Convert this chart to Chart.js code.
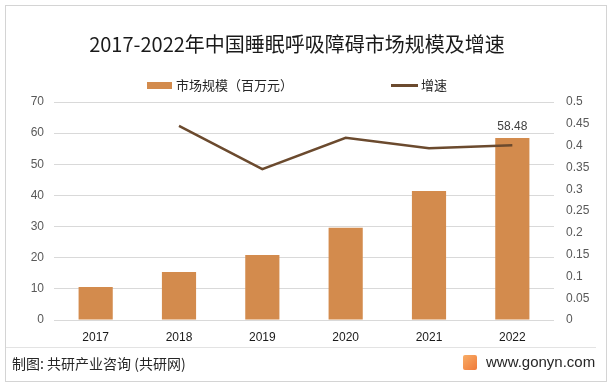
<!DOCTYPE html>
<html lang="zh">
<head>
    <meta charset="UTF-8">
    <title>2017-2022年中国睡眠呼吸障碍市场规模及增速</title>
    <script src="https://cdn.jsdelivr.net/npm/chart.js"></script>
    <style>
        body {
            margin: 0;
            background: #fff;
            font-family: "Noto Sans CJK SC", "Liberation Sans", sans-serif;
        }

        .frame {
            position: relative;
            width: 612px;
            height: 386px;
            overflow: hidden;
        }

        .border {
            position: absolute;
            left: 5px;
            top: 5px;
            width: 600px;
            height: 375px;
            border: 1px solid #d4d4d4;
        }

        canvas {
            position: absolute;
            left: 0;
            top: 0;
        }

        .title {
            position: absolute;
            left: 0;
            width: 594px;
            top: 31px;
            text-align: center;
            font-size: 20px;
            color: #1a1a1a;
            line-height: 26px;
        }

        .legend {
            position: absolute;
            top: 76px;
            font-size: 13px;
            color: #262626;
            line-height: 18px;
            display: flex;
            align-items: center;
        }

        .swatch-bar {
            width: 25px;
            height: 7px;
            background: #d38b4d;
            margin-right: 4px;
        }

        .swatch-line {
            width: 27px;
            height: 3px;
            background: #6b4a2e;
            margin-right: 3px;
        }

        .sep {
            position: absolute;
            left: 6px;
            width: 590px;
            top: 347px;
            border-top: 1px solid #e3e3e3;
        }

        .source {
            position: absolute;
            left: 12px;
            top: 353px;
            font-size: 14px;
            color: #262626;
            line-height: 20px;
        }

        .site {
            position: absolute;
            left: 463px;
            top: 353px;
            font-size: 15px;
            color: #262626;
            font-family: "Liberation Sans", sans-serif;
            line-height: 18px;
            display: flex;
            align-items: center;
        }

        .logo {
            width: 14px;
            height: 15px;
            background: linear-gradient(135deg, #f8ad66, #f07a3a);
            border-radius: 2px;
            margin-right: 9px;
        }
    </style>
</head>
<body>
<div class="frame">
    <div class="border"></div>
    <canvas id="chart" width="612" height="386"></canvas>
    <div class="title">2017-2022年中国睡眠呼吸障碍市场规模及增速</div>
    <div class="legend" style="left:147px"><span class="swatch-bar"></span>市场规模（百万元）</div>
    <div class="legend" style="left:391px"><span class="swatch-line"></span>增速</div>
    <div class="sep"></div>
    <div class="source">制图: 共研产业咨询 (共研网)</div>
    <div class="site"><span class="logo"></span>www.gonyn.com</div>
</div>

<script>
    // Data
    const years = ['2017', '2018', '2019', '2020', '2021', '2022'];
    const marketSize = [10.6, 15.4, 20.9, 29.6, 41.4, 58.48];
    const growthRate = [null, 0.445, 0.346, 0.418, 0.394, 0.401];
    const labelShown = [null, null, null, null, null, '58.48'];

    // Only the last bar carries a value label
    const barLabels = {
        id: 'barLabels',
        afterDatasetsDraw(chart) {
            const ctx = chart.ctx;
            const meta = chart.getDatasetMeta(1);
            ctx.save();
            ctx.font = '12px "Liberation Sans", sans-serif';
            ctx.fillStyle = '#404040';
            ctx.textAlign = 'center';
            ctx.textBaseline = 'bottom';
            meta.data.forEach((bar, i) => {
                if (labelShown[i]) ctx.fillText(labelShown[i], bar.x, bar.y - 5);
            });
            ctx.restore();
        }
    };

    new Chart(document.getElementById('chart'), {
        data: {
            labels: years,
            datasets: [
                {
                    type: 'line',
                    label: '增速',
                    data: growthRate,
                    yAxisID: 'y1',
                    borderColor: '#6b4a2e',
                    borderWidth: 2.5,
                    pointRadius: 0,
                    tension: 0,
                    order: 0
                },
                {
                    type: 'bar',
                    label: '市场规模（百万元）',
                    data: marketSize,
                    yAxisID: 'y',
                    backgroundColor: '#d38b4d',
                    barPercentage: 0.41,
                    categoryPercentage: 1,
                    order: 1
                }
            ]
        },
        options: {
            responsive: false,
            animation: false,
            layout: { padding: { top: 102, bottom: 36, left: 0, right: 0 } },
            plugins: {
                legend: { display: false },
                tooltip: { enabled: false }
            },
            scales: {
                x: {
                    grid: { display: false, drawTicks: false },
                    border: { display: false },
                    ticks: {
                        padding: 10,
                        color: '#1a1a1a',
                        font: { size: 12, family: '"Liberation Sans", sans-serif' }
                    },
                    afterFit(axis) { axis.height = 30; }
                },
                y: {
                    position: 'left',
                    min: 0,
                    max: 70,
                    ticks: {
                        stepSize: 10,
                        padding: 10,
                        color: '#595959',
                        font: { size: 12, family: '"Liberation Sans", sans-serif' }
                    },
                    grid: { color: '#d9d9d9', lineWidth: 1, drawTicks: false },
                    border: { display: false },
                    afterFit(axis) { axis.width = 54; }
                },
                y1: {
                    position: 'right',
                    min: 0,
                    max: 0.5,
                    ticks: {
                        stepSize: 0.05,
                        padding: 12,
                        color: '#595959',
                        font: { size: 12, family: '"Liberation Sans", sans-serif' },
                        callback: v => Math.round(v * 100) / 100
                    },
                    grid: { display: false, drawTicks: false },
                    border: { display: false },
                    afterFit(axis) { axis.width = 58; }
                }
            }
        },
        plugins: [barLabels]
    });
</script>
</body>
</html>
